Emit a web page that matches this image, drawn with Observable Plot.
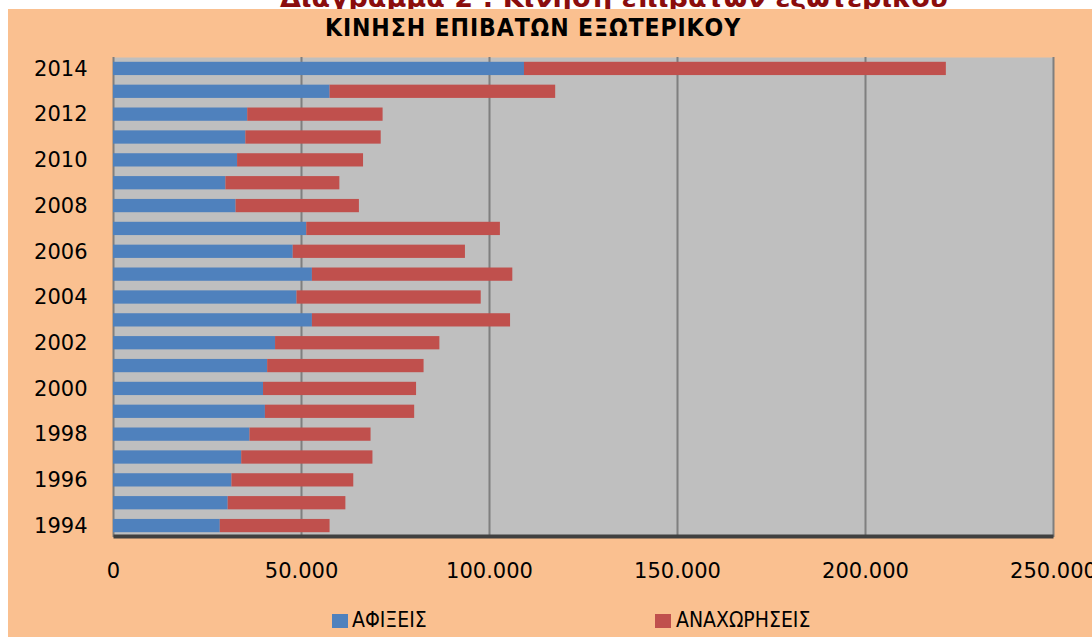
<!DOCTYPE html>
<html>
<head>
<meta charset="utf-8">
<script src="https://cdn.jsdelivr.net/npm/d3@7"></script>
<script src="https://cdn.jsdelivr.net/npm/@observablehq/plot@0.6"></script>
<style>
  html, body { margin: 0; padding: 0; background: #ffffff; }
  #page { position: relative; width: 1092px; height: 637px; overflow: hidden; background: #ffffff; }
  #doctitle { position: absolute; left: 0; top: 0; z-index: 0; }
  #box { position: absolute; left: 8px; top: 9px; width: 1084px; height: 628px; background: #FAC090; z-index: 1; }
  #title { position: absolute; left: 0; width: 1050px; top: 5px; text-align: center;
           font-family: "DejaVu Sans Condensed", "DejaVu Sans"; font-stretch: condensed; font-weight: bold;
           font-size: 24.5px; letter-spacing: 0.9px; color: #000; line-height: 28px; }
  #chart { position: absolute; left: 0; top: 40px; }
  .sw { position: absolute; width: 16px; height: 14px; top: 605px; }
  .lt { position: absolute; top: 598px; font-family: "DejaVu Sans Condensed", "DejaVu Sans"; font-stretch: condensed;
        font-size: 21px; line-height: 26px; color: #000; }
</style>
</head>
<body>
<div id="page">
  <svg id="doctitle" width="1092" height="20">
    <text x="280" y="7" textLength="668" lengthAdjust="spacingAndGlyphs"
      font-family="DejaVu Sans" font-weight="bold" font-size="26" fill="#8a0d0d">Διάγραμμα 2 : Κίνηση επιβατών εξωτερικού</text>
  </svg>
  <div id="box">
    <div id="title">ΚΙΝΗΣΗ ΕΠΙΒΑΤΩΝ ΕΞΩΤΕΡΙΚΟΥ</div>
    <div id="chart"></div>
    <div id="legend"></div>
  </div>
</div>
<script>
const years = [1994, 1995, 1996, 1997, 1998, 1999, 2000, 2001, 2002, 2003, 2004,
               2005, 2006, 2007, 2008, 2009, 2010, 2011, 2012, 2013, 2014];
const arrivals = [28400, 30500, 31500, 34100, 36300, 40400, 39900, 41000, 43100, 52900, 48800,
                  52900, 47800, 51400, 32600, 29900, 33000, 35200, 35700, 57600, 109300];
const departures = [29200, 31300, 32400, 34900, 32200, 39700, 40700, 41600, 43700, 52700, 49000,
                    53300, 45800, 51500, 32800, 30300, 33500, 36000, 36000, 60000, 112200];
const seriesNames = ["ΑΦΙΞΕΙΣ", "ΑΝΑΧΩΡΗΣΕΙΣ"];
const seriesColors = ["#4F81BD", "#C0504D"];
const xTicks = [0, 50000, 100000, 150000, 200000, 250000];
const yTickYears = [1994, 1996, 1998, 2000, 2002, 2004, 2006, 2008, 2010, 2012, 2014];

const data = years.flatMap((yr, i) => [
  {year: yr, series: seriesNames[0], value: arrivals[i]},
  {year: yr, series: seriesNames[1], value: departures[i]}
]);

const fmt = d => d === 0 ? "0" : d3.format(",")(d).replace(/,/g, ".");

const chart = Plot.plot({
  width: 1084,
  height: 530,
  marginLeft: 105,
  marginRight: 39,
  marginTop: 8,
  marginBottom: 42,
  style: {background: "transparent", fontFamily: "DejaVu Sans", fontSize: "21px", color: "#000", overflow: "visible"},
  x: {domain: [0, 250000]},
  y: {domain: years.slice().reverse(), padding: 0, round: false},
  color: {domain: seriesNames, range: seriesColors},
  marks: [
    Plot.frame({fill: "#BFBFBF", stroke: "none"}),
    Plot.gridX(xTicks, {stroke: "#7f7f7f", strokeWidth: 2, strokeOpacity: 1}),
    Plot.barX(data, {x: "value", y: "year", fill: "series", insetTop: 4.8, insetBottom: 4.8}),
    Plot.frame({fill: "#404040", stroke: "none", insetTop: 477, insetBottom: -1}),
    Plot.axisX({ticks: xTicks, tickSize: 0, tickPadding: 26, tickFormat: fmt, label: null}),
    Plot.axisY({ticks: yTickYears, tickSize: 0, tickPadding: 26, tickFormat: d => String(d), label: null})
  ]
});
document.getElementById("chart").appendChild(chart);

const legend = document.getElementById("legend");
const legendPos = [{sw: 324, tx: 344}, {sw: 647, tx: 668}];
seriesNames.forEach((name, i) => {
  const sw = document.createElement("div");
  sw.className = "sw";
  sw.style.left = legendPos[i].sw + "px";
  sw.style.background = seriesColors[i];
  legend.appendChild(sw);
  const t = document.createElement("div");
  t.className = "lt";
  t.style.left = legendPos[i].tx + "px";
  t.textContent = name;
  legend.appendChild(t);
});
</script>
</body>
</html>
